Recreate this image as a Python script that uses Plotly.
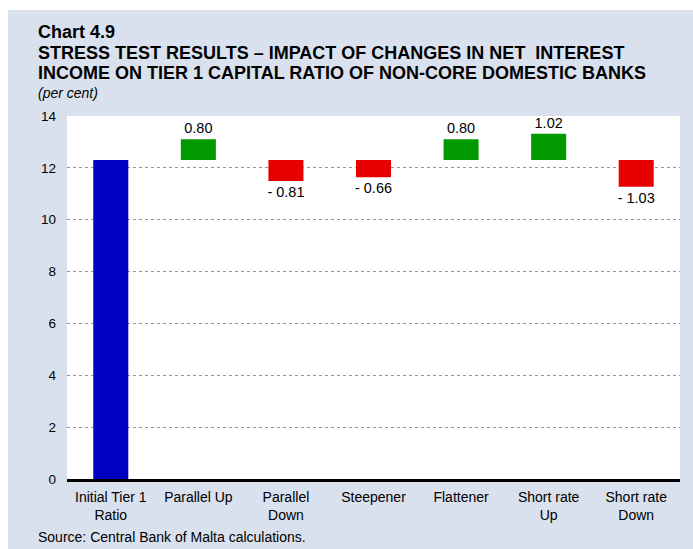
import plotly.graph_objects as go

categories = ["Initial Tier 1<br>Ratio", "Parallel Up", "Parallel<br>Down", "Steepener",
              "Flattener", "Short rate<br>Up", "Short rate<br>Down"]
initial_ratio = 12.3
changes = [0.80, -0.81, -0.66, 0.80, 1.02, -1.03]
y_ticks = [0, 2, 4, 6, 8, 10, 12, 14]

W, H = 693, 549
ML, MR, MT, MB = 67, 13, 116, 70
PW, PH = W - ML - MR, H - MT - MB

def px_x(px):
    return (px - ML) / PW

def px_y(py):
    return (H - MB - py) / PH

BG = "#DAE1EE"
FONT = "Liberation Sans, Arial, sans-serif"

fig = go.Figure()
fig.add_trace(go.Bar(x=[categories[0]], y=[initial_ratio], base=[0],
                     marker=dict(color="#0000C0", line=dict(width=0)),
                     width=0.4, showlegend=False, hoverinfo="skip"))
colors = ["#009900" if v >= 0 else "#E60000" for v in changes]
texts = [f"{v:.2f}" if v >= 0 else f"- {abs(v):.2f}" for v in changes]
fig.add_trace(go.Bar(x=categories[1:], y=changes, base=[initial_ratio] * len(changes),
                     marker=dict(color=colors, line=dict(width=0)),
                     width=0.4, text=texts, textposition="outside", constraintext="none",
                     textfont=dict(size=14.5, color="#000000", family=FONT),
                     cliponaxis=False, showlegend=False, hoverinfo="skip"))

fig.update_layout(
    width=W, height=H,
    margin=dict(l=ML, r=MR, t=MT, b=MB, autoexpand=False),
    paper_bgcolor=BG, plot_bgcolor="white",
    font=dict(family=FONT, size=14, color="#000000"),
    bargap=0.6,
)
fig.update_yaxes(range=[0, 14], tickvals=y_ticks, showgrid=True, gridcolor="#999999",
                 griddash="dot", gridwidth=1, zeroline=False, showline=False,
                 ticks="", ticklabelstandoff=10, tickfont=dict(size=13.5))
fig.update_xaxes(showline=True, linecolor="#000000", linewidth=2.5, ticks="",
                 showgrid=False, tickfont=dict(size=14), ticklabelstandoff=3)

# white margins top and left
fig.add_shape(type="rect", xref="paper", yref="paper", x0=px_x(0), x1=px_x(W),
              y0=px_y(10), y1=px_y(0), fillcolor="white", line=dict(width=0), layer="above")
fig.add_shape(type="rect", xref="paper", yref="paper", x0=px_x(0), x1=px_x(8),
              y0=px_y(H), y1=px_y(0), fillcolor="white", line=dict(width=0), layer="above")

def note(text, py, size, bold=False, italic=False):
    t = text
    if bold:
        t = f"<b>{t}</b>"
    if italic:
        t = f"<i>{t}</i>"
    fig.add_annotation(text=t, xref="paper", yref="paper", x=px_x(36), y=px_y(py),
                       xanchor="left", yanchor="middle", showarrow=False,
                       font=dict(size=size, family=FONT, color="#000000"))

note("Chart 4.9", 32, 18, bold=True)
note("STRESS TEST RESULTS – IMPACT OF CHANGES IN NET  INTEREST", 53, 18, bold=True)
note("INCOME ON TIER 1 CAPITAL RATIO OF NON-CORE DOMESTIC BANKS", 73, 18, bold=True)
note("(per cent)", 93, 14, italic=True)
note("Source: Central Bank of Malta calculations.", 537, 14)

fig.write_html("out.html", config={"displayModeBar": False},
               post_script="document.body.style.margin='0';document.body.style.overflow='hidden';")
